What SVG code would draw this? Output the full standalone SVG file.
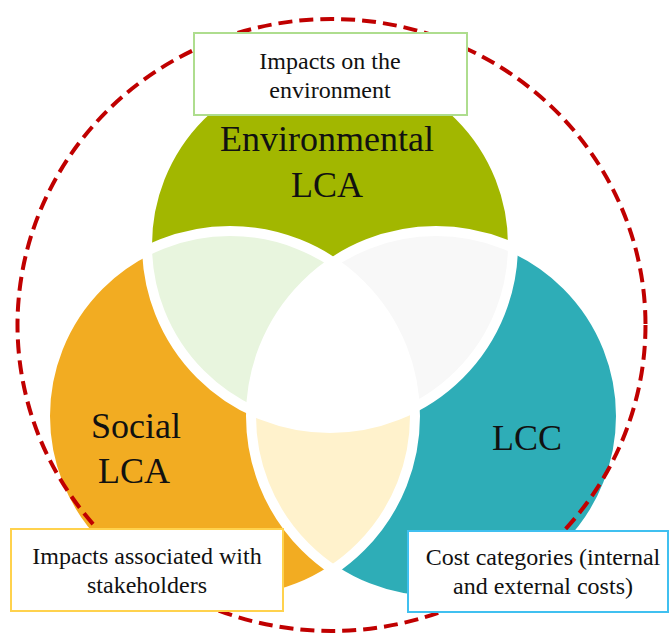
<svg xmlns="http://www.w3.org/2000/svg" width="669" height="635" viewBox="0 0 669 635">
<style>
.lbl{font-family:"Liberation Serif","Times New Roman",serif;fill:#111;text-anchor:middle}
.big{font-size:36px}
.small{font-size:24px}
.box{fill:#fff;stroke-width:2}
.ring{fill:none;stroke:#fff;stroke-width:10}
</style>
<defs>
<clipPath id="cEnv"><circle cx="330" cy="245" r="183"/></clipPath>
<clipPath id="cSoc"><circle cx="230" cy="416" r="185"/></clipPath>
<clipPath id="cLcc"><circle cx="436" cy="416" r="185"/></clipPath>
</defs>
<rect width="669" height="635" fill="#fff"/>
<g id="venn">
<circle cx="330" cy="245" r="183" fill="#A2B700"/>
<circle cx="230" cy="416" r="185" fill="#F2AC22"/>
<circle cx="436" cy="416" r="185" fill="#2EADB7"/>
<circle cx="230" cy="416" r="185" fill="#E8F5DE" clip-path="url(#cEnv)"/>
<circle cx="436" cy="416" r="185" fill="#F8F8F8" clip-path="url(#cEnv)"/>
<circle cx="436" cy="416" r="185" fill="#FFF2CC" clip-path="url(#cSoc)"/>
<g clip-path="url(#cSoc)"><circle cx="330" cy="245" r="183" fill="#fff" clip-path="url(#cLcc)"/></g>
<circle class="ring" cx="330" cy="245" r="183"/>
<circle class="ring" cx="230" cy="416" r="185"/>
<circle class="ring" cx="436" cy="416" r="185"/>
</g>
<g id="env-label"><text class="lbl big" x="327" y="151">Environmental</text><text class="lbl big" x="327" y="197">LCA</text></g>
<g id="social-label"><text class="lbl big" x="136" y="438">Social</text><text class="lbl big" x="134" y="483">LCA</text></g>
<g id="lcc-label"><text class="lbl big" x="527" y="450">LCC</text></g>
<g id="boundary"><ellipse cx="331.5" cy="325" rx="314" ry="306" fill="none" stroke="#C00000" stroke-width="4" stroke-dasharray="14 7"/></g>
<g id="box-env"><rect class="box" x="194" y="33" width="273" height="82" stroke="#AEDD8E"/><text class="lbl small" x="330" y="69">Impacts on the</text><text class="lbl small" x="330" y="98">environment</text></g>
<g id="box-social"><rect class="box" x="11" y="529" width="272" height="82" stroke="#FFD24D"/><text class="lbl small" x="147" y="564">Impacts associated with</text><text class="lbl small" x="147" y="593">stakeholders</text></g>
<g id="box-lcc"><rect class="box" x="408" y="531" width="260" height="81" stroke="#40C0F0"/><text class="lbl small" x="543" y="565">Cost categories (internal</text><text class="lbl small" x="543" y="594">and external costs)</text></g>
</svg>
